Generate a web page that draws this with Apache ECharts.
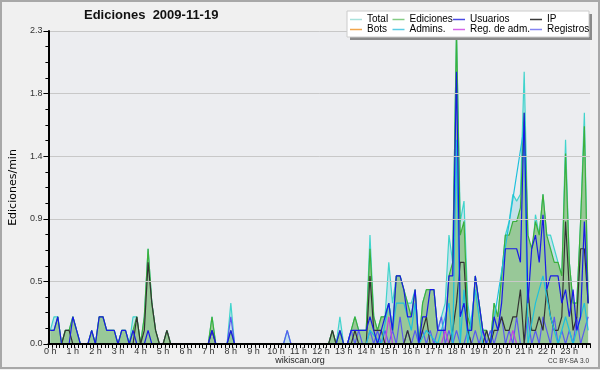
<!DOCTYPE html>
<html><head><meta charset="utf-8">
<script src="https://cdn.jsdelivr.net/npm/echarts@6/dist/echarts.min.js"></script>
<style>html,body{margin:0;padding:0;background:#f0f0f0}#c{width:600px;height:370px}</style>
</head><body><div id="c"></div><script>
// ---- tick labels ----
const hourLabels = ['0 h','1 h','2 h','3 h','4 h','5 h','6 h','7 h','8 h','9 h','10 h','11 h','12 h','13 h','14 h','15 h','16 h','17 h','18 h','19 h','20 h','21 h','22 h','23 h'];
const slotMinutes = ['00','10','20','30','40','50'];
const yMax = 2.3, yStep = 0.46;

// ---- series values (edits/min, one row per hour, 10-minute slots) ----
const total = [
 [0.1,0.2,0.2,0,0.1,0.1],[0.2,0.1,0,0,0,0.1],[0,0.2,0.2,0.1,0.1,0.1],[0,0.1,0.1,0,0.2,0.2],
 [0,0.2,0.7,0.3,0.1,0],[0,0.1,0,0,0,0],[0,0,0,0,0,0],[0,0.2,0,0,0,0],
 [0.3,0,0,0,0,0],[0,0,0,0,0,0],[0,0,0,0.1,0,0],[0,0,0,0,0,0],
 [0,0,0,0.1,0,0.2],[0,0,0.1,0.2,0.1,0.1],[0.1,0.8,0.2,0.1,0.2,0.2],[0.6,0.3,0.5,0.5,0.4,0.3],
 [0.3,0.4,0,0.3,0.4,0.4],[0.4,0.1,0.2,0.3,0.8,0.6],[2.3,0.9,1.05,0.3,0.1,0.5],[0.3,0.1,0.1,0,0.3,0.2],
 [0.5,0.8,0.9,1.1,1.05,1.1],[2.0,0.8,0.6,0.95,0.8,1.1],[0.8,0.8,0.7,0.6,0.5,1.5],[0.6,0.3,0.3,0.9,1.7,0.3]
];
const ediciones = [
 [0.1,0.1,0.2,0,0.1,0.1],[0.2,0.1,0,0,0,0.1],[0,0.2,0.2,0.1,0.1,0.1],[0,0.1,0.1,0,0.1,0.2],
 [0,0.2,0.7,0.3,0.1,0],[0,0.1,0,0,0,0],[0,0,0,0,0,0],[0,0.2,0,0,0,0],
 [0.1,0,0,0,0,0],[0,0,0,0,0,0],[0,0,0,0,0,0],[0,0,0,0,0,0],
 [0,0,0,0.1,0,0.1],[0,0,0.1,0.2,0.1,0.1],[0.1,0.7,0.2,0.1,0.2,0.2],[0.3,0.1,0.5,0.5,0.4,0.3],
 [0.2,0.4,0,0.3,0.4,0.4],[0.4,0.1,0.1,0.1,0.5,0.6],[2.3,0.8,0.9,0.2,0.1,0.5],[0.3,0.1,0.1,0,0.3,0.2],
 [0.5,0.8,0.8,0.9,0.9,1.0],[1.7,0.8,0.7,0.9,0.8,1.1],[0.8,0.7,0.6,0.6,0.5,1.4],[0.6,0.3,0.3,0.9,1.6,0.3]
];
const usuarios = [
 [0.1,0.1,0.2,0,0,0],[0.2,0.1,0,0,0,0.1],[0,0.2,0.2,0.1,0.1,0.1],[0,0.1,0.1,0,0.1,0],
 [0,0,0.1,0,0,0],[0,0,0,0,0,0],[0,0,0,0,0,0],[0,0.1,0,0,0,0],
 [0.1,0,0,0,0,0],[0,0,0,0,0,0],[0,0,0,0,0,0],[0,0,0,0,0,0],
 [0,0,0,0,0,0.1],[0,0,0.1,0.1,0.1,0.1],[0.1,0.2,0.1,0,0.1,0.2],[0.3,0.1,0.5,0.5,0.4,0.2],
 [0.2,0.4,0,0.2,0.2,0.4],[0.4,0.1,0.1,0.1,0.5,0.5],[2.0,0.2,0.3,0.1,0.1,0.5],[0.3,0.1,0,0,0.2,0.1],
 [0.3,0.7,0.7,0.7,0.7,0.6],[1.7,0.3,0.7,0.8,0.6,0.95],[0.4,0.5,0.5,0.5,0.3,0.4],[0.2,0.4,0.1,0.2,0.9,0.3]
];
const ip = [
 [0,0,0,0,0.1,0.1],[0,0,0,0,0,0],[0,0,0,0,0,0],[0,0,0,0,0,0.2],
 [0,0.1,0.6,0.3,0.1,0],[0,0.1,0,0,0,0],[0,0,0,0,0,0],[0,0.1,0,0,0,0],
 [0,0,0,0,0,0],[0,0,0,0,0,0],[0,0,0,0,0,0],[0,0,0,0,0,0],
 [0,0,0,0.1,0,0],[0,0,0,0.1,0,0],[0,0.5,0.1,0.1,0.1,0],[0,0,0,0,0,0.1],
 [0,0,0,0.1,0.2,0],[0,0,0,0,0,0.1],[0.3,0.6,0.6,0.1,0,0],[0,0,0.1,0,0.1,0.1],
 [0.2,0.1,0.1,0.2,0.2,0.4],[0,0.4,0.1,0.1,0.2,0.1],[0.4,0.2,0.1,0.1,0.2,0.9],[0.4,0.1,0.2,0.7,0.7,0.3]
];
const bots = [
 [0,0,0,0,0,0],[0,0,0,0,0,0],[0,0,0,0,0,0],[0,0,0,0,0,0],[0,0,0,0,0,0],[0,0,0,0,0,0],
 [0,0,0,0,0,0],[0,0,0,0,0,0],[0,0,0,0,0,0],[0,0,0,0,0,0],[0,0,0,0,0,0],[0,0,0,0,0,0],
 [0,0,0,0,0,0],[0,0,0,0,0,0],[0,0,0,0,0,0],[0,0,0,0,0,0],[0,0,0,0,0,0],[0,0,0,0,0,0],
 [0,0,0,0,0,0],[0,0,0,0,0,0],[0,0,0,0,0,0],[0,0,0,0,0,0],[0,0,0,0,0,0],[0,0,0,0,0,0]
];
const n = null;
const admins = [
 [n,n,n,n,n,n],[n,n,n,n,n,n],[n,n,n,n,n,n],[n,n,n,n,n,n],[n,n,n,n,n,n],[n,n,n,n,n,n],
 [n,n,n,n,n,n],[n,n,n,n,n,n],[n,n,n,n,n,n],[n,n,n,n,n,n],[n,n,n,n,n,n],[n,n,n,n,n,n],
 [n,n,n,n,n,n],[n,n,n,n,n,n],[0,0.1,n,n,0,n],[0.3,0.1,0.3,n,0.3,n],
 [0.1,0.3,0,n,0.1,n],[n,0,n,n,0.3,0],[1.5,0,0.4,0,n,0.4],[n,0,n,0,n,n],
 [n,n,n,n,n,n],[1.6,0,n,0.3,n,0.5],[n,0.2,n,0,n,0.2],[n,0,n,n,0.3,0.1]
];
const regAdm = [
 [0,0,0,0,0,0],[0,0,0,0,0,0],[0,0,0,0,0,0],[0,0,0,0,0,0],[0,0,0,0,0,0],[0,0,0,0,0,0],
 [0,0,0,0,0,0],[0,0,0,0,0,0],[0,0,0,0,0,0],[0,0,0,0,0,0],[0,0,0,0,0,0],[0,0,0,0,0,0],
 [0,0,0,0,0,0],[0,0,0,0,0,0],[0,0,0,0,0,0],[0.2,0,0,0,0,0],[0,0,0,0,0,0],[0,0,0,0.1,0,0],
 [0,0,0,0,0,0],[0,0,0,0,0,0],[0,0,0,0.1,0,0],[0,0,0,0,0,0],[0,0,0,0,0,0],[0,0,0,0,0,0]
];
const registros = [
 [0,0,0,0,0,0],[0,0,0,0,0,0],[0,0,0,0,0,0],[0,0,0,0,0,0],[0,0,0,0,0,0],[0,0,0,0,0,0],
 [0,0,0,0,0,0],[0,0,0,0,0,0],[0.2,0,0,0,0,0],[0,0,0,0,0,0],[0,0,0,0.1,0,0],[0,0,0,0,0,0],
 [0,0,0,0,0,0],[0,0,0.1,0,0.1,0],[0,0.1,0,0.1,0,0.1],[0,0.1,0,0.2,0,0.1],
 [0,0.1,0,0.1,0,0.1],[0,0.1,0.2,0,0.1,0],[0.1,0,0,0.1,0,0.1],[0,0.1,0,0.1,0,0.1],
 [0.2,0,0.1,0,0.2,0],[0,0.2,0,0.1,0,0.2],[0.1,0,0.2,0,0.1,0],[0.1,0,0.2,0,0.1,0.2]
];

// ---- build ----
const categories = [];
hourLabels.forEach((h, k) => slotMinutes.forEach(m => categories.push(k + ':' + m)));
const flat = a => a.flat();

const FONT = 'Liberation Sans, Arial, sans-serif';
const COLORS = {
  'Total': '#40d4cc', 'Ediciones': '#3cb03c', 'Usuarios': '#1a1ae6', 'IP': '#333333',
  'Bots': '#f0a040', 'Admins.': '#1ec0dc', 'Reg. de adm.': '#c040e0', 'Registros': '#5a5af0'
};
const LEGEND_COLORS = {
  'Total': '#a8e2dc', 'Ediciones': '#84cc84', 'Usuarios': '#4a4ae4', 'IP': '#3a3a3a',
  'Bots': '#f2a64c', 'Admins.': '#5ccce4', 'Reg. de adm.': '#d464e8', 'Registros': '#8484f2'
};
const chart = echarts.init(document.getElementById('c'), null, {renderer: 'canvas'});

function line(name, data, extra) {
  const color = COLORS[name];
  return Object.assign({
    name, type: 'line', data: flat(data), symbol: 'none', showSymbol: false,
    lineStyle: {color, width: 1.2}, itemStyle: {color}, animation: false
  }, extra || {});
}

function legendCol(names, left) {
  return {
    data: names.map(nm => ({name: nm, icon: 'rect', itemStyle: {color: LEGEND_COLORS[nm], borderWidth: 0}})),
    left, orient: 'vertical', top: 14.5, padding: 0, itemGap: 0, itemWidth: 12, itemHeight: 1.5,
    selectedMode: false, z: 31,
    itemStyle: {borderWidth: 0}, lineStyle: {width: 0},
    textStyle: {fontFamily: FONT, fontSize: 10, lineHeight: 9.5, color: '#000'}
  };
}

chart.setOption({
  backgroundColor: '#f0f0f0',
  animation: false,
  title: {
    text: 'Ediciones  2009-11-19', left: 84, top: 9, padding: 0,
    textStyle: {fontFamily: FONT, fontSize: 13, fontWeight: 'bold', color: '#111'}
  },
  grid: {left: 45, right: 10, top: 31, bottom: 26, show: true, backgroundColor: '#ecedf0', borderWidth: 0},
  legend: [
    legendCol(['Total', 'Bots'], 350),
    legendCol(['Ediciones', 'Admins.'], 392.5),
    legendCol(['Usuarios', 'Reg. de adm.'], 453),
    legendCol(['IP', 'Registros'], 530)
  ],
  xAxis: {
    type: 'category', data: categories, boundaryGap: true, z: 10,
    axisLine: {lineStyle: {color: '#000', width: 2}},
    axisTick: {show: true, interval: 0, length: 4, lineStyle: {color: '#000', width: 1}},
    axisLabel: {
      interval: (i) => i % slotMinutes.length === 0,
      formatter: (v, i) => hourLabels[Math.floor(i / slotMinutes.length)],
      fontFamily: FONT, fontSize: 9, margin: 3, color: '#333'
    },
    splitLine: {show: false}
  },
  yAxis: {
    type: 'value', min: 0, max: yMax, interval: yStep, z: 10,
    name: 'Ediciones/min', nameLocation: 'middle', nameGap: 27, nameRotate: 90,
    nameTextStyle: {fontFamily: 'DejaVu Sans, sans-serif', fontSize: 11, color: '#000'},
    axisLine: {show: true, lineStyle: {color: '#000', width: 2}},
    axisTick: {show: true, length: 5, lineStyle: {color: '#000'}},
    minorTick: {show: true, splitNumber: 4, length: 3, lineStyle: {color: '#000'}},
    axisLabel: {formatter: v => v.toFixed(1), fontFamily: FONT, fontSize: 9, margin: 6, color: '#333'},
    splitLine: {lineStyle: {color: '#c8c8c8', width: 1}}
  },
  series: [
    line('Total', total, {areaStyle: {color: '#c4e2ea', opacity: 1}, z: 1}),
    line('Ediciones', ediciones, {areaStyle: {color: '#98c898', opacity: 1}, z: 2}),
    line('Bots', bots, {z: 3}),
    line('Registros', registros, {z: 3}),
    line('Reg. de adm.', regAdm, {z: 3}),
    line('IP', ip, {z: 3}),
    line('Admins.', admins, {connectNulls: true, z: 3}),
    line('Usuarios', usuarios, {z: 4})
  ],
  graphic: [
    {type: 'rect', z: 30, shape: {x: 350, y: 14, width: 242, height: 26}, style: {fill: '#8a8a8a'}, silent: true},
    {type: 'rect', z: 30, shape: {x: 347, y: 11, width: 242, height: 26}, style: {fill: '#ffffff', stroke: '#cccccc', lineWidth: 1}, silent: true},
    {type: 'text', z: 30, x: 300, y: 361, style: {text: 'wikiscan.org', font: '9px ' + FONT, fill: '#222', align: 'center', verticalAlign: 'middle'}, silent: true},
    {type: 'text', z: 30, x: 589, y: 361, style: {text: 'CC BY-SA 3.0', font: '6.5px ' + FONT, fill: '#333', align: 'right', verticalAlign: 'middle'}, silent: true},
    {type: 'rect', z: 30, shape: {x: 1, y: 1, width: 598, height: 367}, style: {fill: 'none', stroke: '#a8a8a8', lineWidth: 2}, silent: true}
  ]
});
</script></body></html>
